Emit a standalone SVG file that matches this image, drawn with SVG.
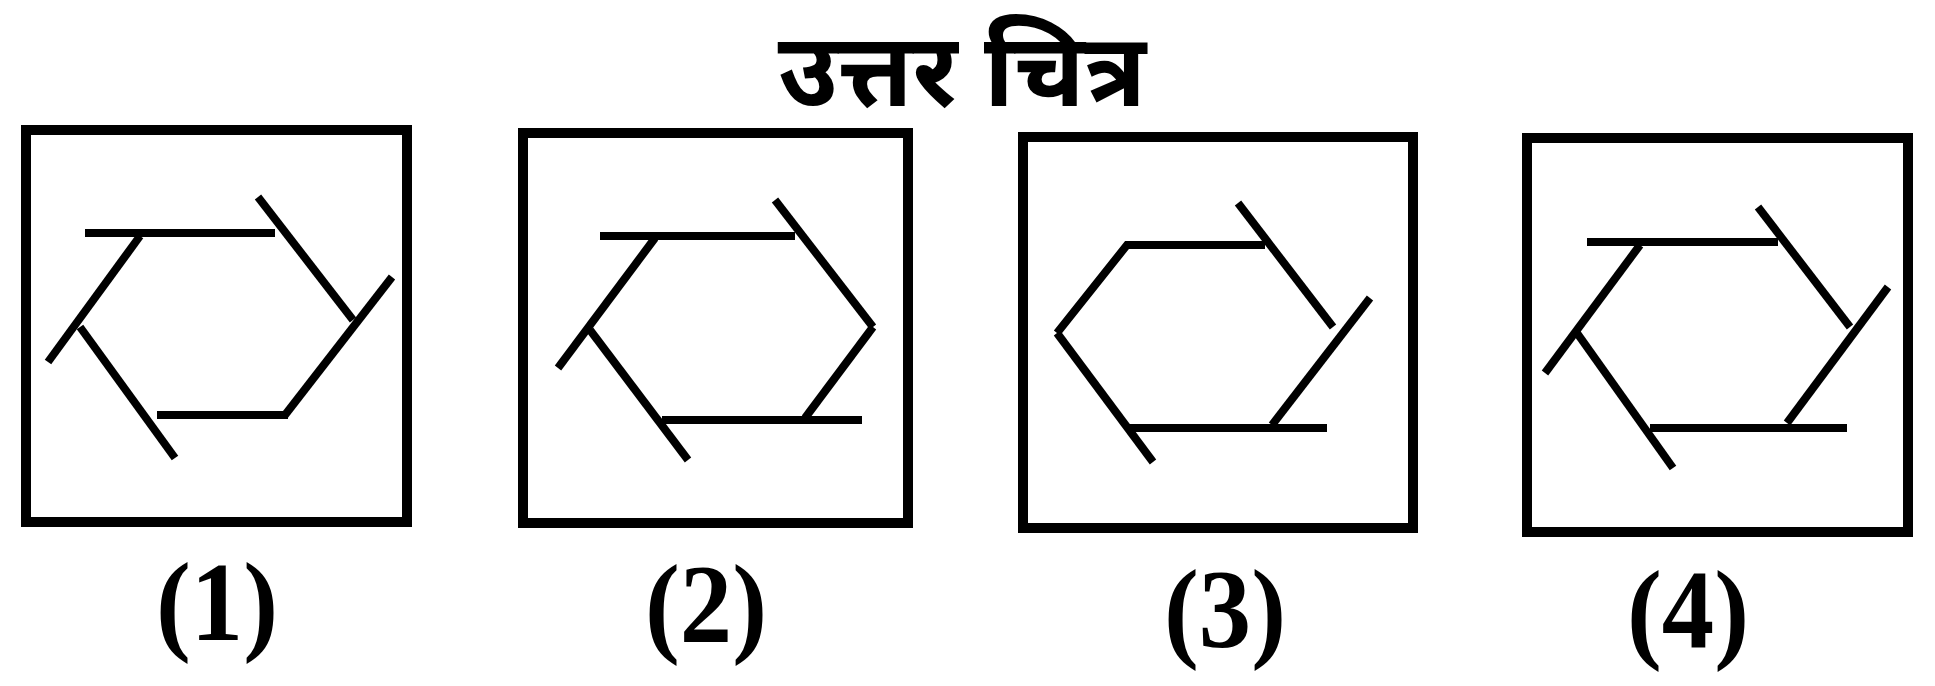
<svg xmlns="http://www.w3.org/2000/svg" width="1935" height="686" viewBox="0 0 1935 686">
<style>
.box{fill:none;stroke:#000;stroke-width:10}
.ln{fill:none;stroke:#000;stroke-width:8;stroke-linecap:butt;stroke-linejoin:miter}
.lbl{font-family:"Liberation Serif","Times New Roman",serif;font-size:112px;font-weight:bold;fill:#000;text-anchor:middle}
.title{font-family:"Noto Sans Devanagari","Noto Sans","Lohit Devanagari","Noto Sans CJK SC",sans-serif;font-size:102px;font-weight:bold;fill:#000;text-anchor:middle}
</style>
<rect width="1935" height="686" fill="#fff"/>
<g id="title"><text class="title" x="962" y="106">उत्तर चित्र</text></g>
<g id="fig1">
<rect class="box" x="26" y="130" width="381" height="392"/>
<line class="ln" x1="85" y1="233" x2="275" y2="233"/>
<line class="ln" x1="258" y1="197" x2="353" y2="320"/>
<line class="ln" x1="392" y1="277" x2="285" y2="415"/>
<line class="ln" x1="157" y1="415" x2="288" y2="415"/>
<line class="ln" x1="80" y1="327" x2="175" y2="458"/>
<line class="ln" x1="140" y1="236" x2="48" y2="362"/>
<text class="lbl" x="217" y="640" textLength="122" lengthAdjust="spacingAndGlyphs">(1)</text>
</g>
<g id="fig2">
<rect class="box" x="523" y="133" width="385" height="390"/>
<line class="ln" x1="600" y1="236" x2="795" y2="236"/>
<line class="ln" x1="775" y1="200" x2="873" y2="327"/>
<line class="ln" x1="873" y1="327" x2="805" y2="418"/>
<line class="ln" x1="662" y1="420" x2="862" y2="420"/>
<line class="ln" x1="590" y1="330" x2="688" y2="460"/>
<line class="ln" x1="655" y1="238" x2="558" y2="368"/>
<text class="lbl" x="706" y="642" textLength="122" lengthAdjust="spacingAndGlyphs">(2)</text>
</g>
<g id="fig3">
<rect class="box" x="1023" y="137" width="390" height="391"/>
<polyline class="ln" points="1265,245 1127,245 1057,333"/>
<line class="ln" x1="1057" y1="333" x2="1153" y2="462"/>
<line class="ln" x1="1128" y1="428" x2="1327" y2="428"/>
<line class="ln" x1="1370" y1="298" x2="1272" y2="425"/>
<line class="ln" x1="1238" y1="203" x2="1333" y2="327"/>
<text class="lbl" x="1225" y="647" textLength="122" lengthAdjust="spacingAndGlyphs">(3)</text>
</g>
<g id="fig4">
<rect class="box" x="1527" y="138" width="381" height="394"/>
<line class="ln" x1="1587" y1="242" x2="1778" y2="242"/>
<line class="ln" x1="1640" y1="245" x2="1545" y2="373"/>
<line class="ln" x1="1577" y1="333" x2="1673" y2="468"/>
<line class="ln" x1="1650" y1="428" x2="1847" y2="428"/>
<line class="ln" x1="1888" y1="287" x2="1787" y2="423"/>
<line class="ln" x1="1758" y1="207" x2="1850" y2="327"/>
<text class="lbl" x="1688" y="648" textLength="122" lengthAdjust="spacingAndGlyphs">(4)</text>
</g>
</svg>
